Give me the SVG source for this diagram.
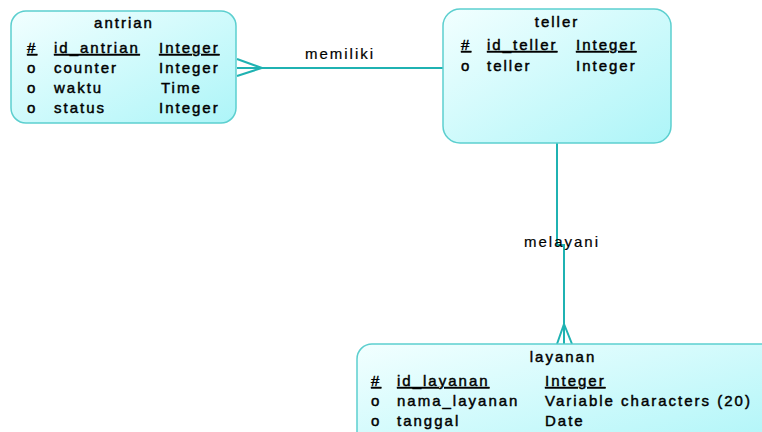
<svg xmlns="http://www.w3.org/2000/svg" width="762" height="432" viewBox="0 0 762 432">
  <defs>
    <linearGradient id="entityFill" x1="0" y1="0" x2="1" y2="1">
      <stop offset="0" stop-color="#f2ffff"/>
      <stop offset="1" stop-color="#adf5f8"/>
    </linearGradient>
    <style>
      .box { fill: url(#entityFill); stroke: #5ccfcf; stroke-width: 1.5; }
      .lnk { fill: none; stroke: #1fb2b2; stroke-width: 2; }
      text { font-family: "Liberation Sans", Arial, sans-serif; font-size: 15px; fill: #000; stroke: #000; stroke-width: 0.45; letter-spacing: 2px; }
      .title { text-anchor: middle; }
      .pk { text-decoration: underline; }
      .rel { text-anchor: middle; stroke-width: 0.2; }
    </style>
  </defs>

  <!-- relationships -->
  <g id="connectors">
    <!-- antrian >- teller -->
    <path class="lnk" d="M237,68 H443"/>
    <path class="lnk" d="M237,59 L262,68 L237,76"/>
    <text class="rel" x="340" y="59">memiliki</text>
    <!-- teller -< layanan -->
    <path class="lnk" d="M557,143 V245 H564 V344"/>
    <path class="lnk" d="M557,344 L564,324 L572,344"/>
    <text class="rel" x="562" y="247">melayani</text>
  </g>

  <!-- entity: antrian -->
  <g id="antrian">
    <rect class="box" x="11" y="11" width="225" height="112" rx="15" ry="15"/>
    <text class="title" x="124" y="28">antrian</text>
    <text class="pk" x="27" y="53">#</text>
    <text class="pk" x="54" y="53">id_antrian</text>
    <text class="pk" x="159" y="53">Integer</text>
    <text x="27" y="73">o</text>
    <text x="54" y="73">counter</text>
    <text x="159" y="73">Integer</text>
    <text x="27" y="93">o</text>
    <text x="54" y="93">waktu</text>
    <text x="161" y="93">Time</text>
    <text x="27" y="113">o</text>
    <text x="54" y="113">status</text>
    <text x="159" y="113">Integer</text>
  </g>

  <!-- entity: teller -->
  <g id="teller">
    <rect class="box" x="443" y="9" width="228" height="134" rx="17" ry="17"/>
    <text class="title" x="557" y="27">teller</text>
    <text class="pk" x="461" y="50">#</text>
    <text class="pk" x="487" y="50">id_teller</text>
    <text class="pk" x="576" y="50">Integer</text>
    <text x="461" y="71">o</text>
    <text x="487" y="71">teller</text>
    <text x="576" y="71">Integer</text>
  </g>

  <!-- entity: layanan -->
  <g id="layanan">
    <rect class="box" x="357" y="344" width="420" height="110" rx="15" ry="15"/>
    <text class="title" x="563" y="362">layanan</text>
    <text class="pk" x="371" y="386">#</text>
    <text class="pk" x="397" y="386">id_layanan</text>
    <text class="pk" x="545" y="386">Integer</text>
    <text x="371" y="406">o</text>
    <text x="397" y="406">nama_layanan</text>
    <text x="545" y="406">Variable characters (20)</text>
    <text x="371" y="426">o</text>
    <text x="397" y="426">tanggal</text>
    <text x="545" y="426">Date</text>
  </g>
</svg>
